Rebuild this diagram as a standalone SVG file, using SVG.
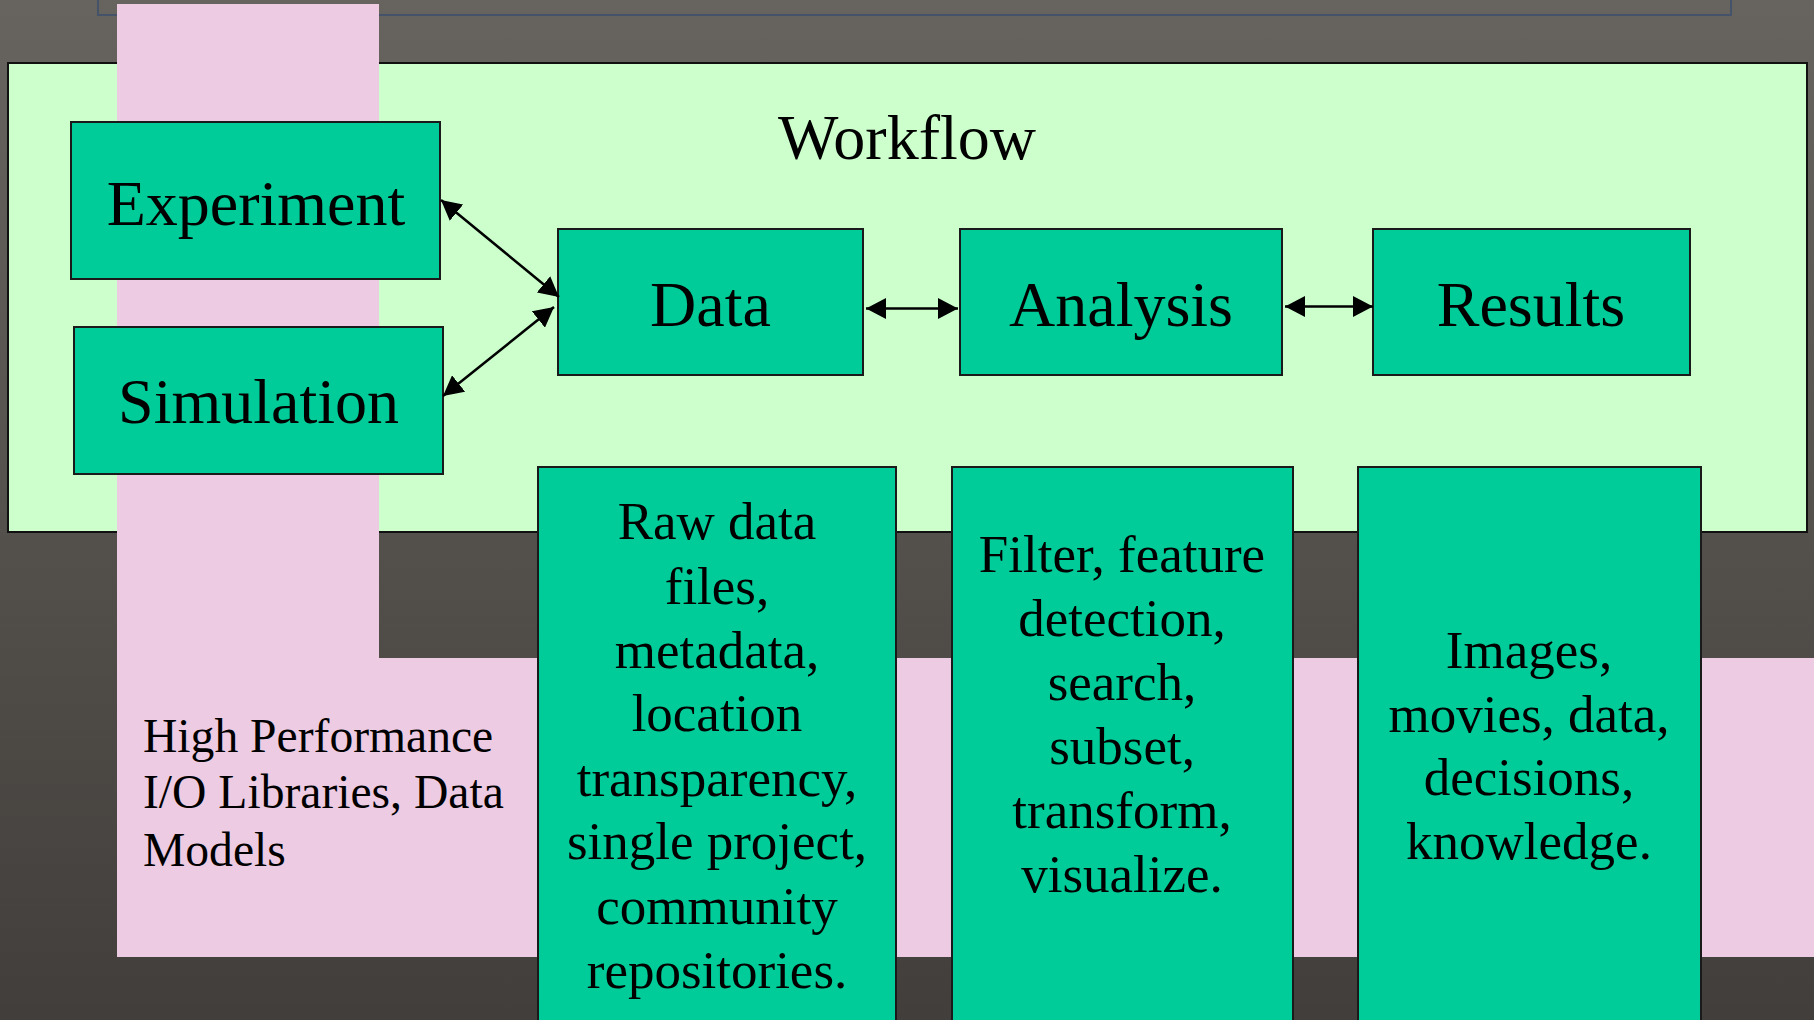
<svg xmlns="http://www.w3.org/2000/svg" width="1814" height="1020" viewBox="0 0 1814 1020">
  <defs>
    <linearGradient id="bg" x1="0" y1="0" x2="0" y2="1">
      <stop offset="0" stop-color="#67645f"/>
      <stop offset="1" stop-color="#423e3b"/>
    </linearGradient>
    <marker id="ah" viewBox="0 0 20 21" refX="20" refY="10.5" markerWidth="20" markerHeight="21" markerUnits="userSpaceOnUse" orient="auto-start-reverse">
      <path d="M0,0 L20,10.5 L0,21 z" fill="#000"/>
    </marker>
  </defs>
  <style>
    .node { fill: #00cc99; stroke: #1a1a1a; stroke-width: 2; }
    .t { font-family: "Liberation Serif", "Times New Roman", serif; fill: #000; }
    .lbl { font-size: 64px; text-anchor: middle; }
    .desc { font-size: 53px; text-anchor: middle; }
    .conn { stroke: #000; stroke-width: 2.5; fill: none; marker-start: url(#ah); marker-end: url(#ah); }
  </style>

  <rect x="0" y="0" width="1814" height="1020" fill="url(#bg)"/>
  <rect x="98" y="-20" width="1633" height="35" fill="none" stroke="#45536a" stroke-width="2"/>

  <g id="workflow-panel">
    <rect x="8" y="63" width="1799" height="469" fill="#ccffcc" stroke="#111" stroke-width="2"/>
  </g>

  <g id="io-libraries">
    <path d="M117,4 H379 V658 H1814 V957 H117 Z" fill="#edcbe3"/>
    <text class="t" font-size="47.6" x="143" y="752">High Performance</text>
    <text class="t" font-size="47.6" x="143" y="808">I/O Libraries, Data</text>
    <text class="t" font-size="47.6" x="143" y="866">Models</text>
  </g>

  <g id="title">
    <text class="t lbl" x="907" y="159" font-size="65">Workflow</text>
  </g>

  <g id="experiment">
    <rect class="node" x="71" y="122" width="369" height="157"/>
    <text class="t lbl" x="256" y="225">Experiment</text>
  </g>
  <g id="simulation">
    <rect class="node" x="74" y="327" width="369" height="147"/>
    <text class="t lbl" x="258.5" y="423">Simulation</text>
  </g>
  <g id="data">
    <rect class="node" x="558" y="229" width="305" height="146"/>
    <text class="t lbl" x="710.5" y="326">Data</text>
  </g>
  <g id="analysis">
    <rect class="node" x="960" y="229" width="322" height="146"/>
    <text class="t lbl" x="1121" y="326">Analysis</text>
  </g>
  <g id="results">
    <rect class="node" x="1373" y="229" width="317" height="146"/>
    <text class="t lbl" x="1531" y="326">Results</text>
  </g>

  <g id="data-desc">
    <rect class="node" x="538" y="467" width="358" height="580"/>
    <text class="t desc" x="717" y="539">Raw data</text>
    <text class="t desc" x="717" y="604">files,</text>
    <text class="t desc" x="717" y="668">metadata,</text>
    <text class="t desc" x="717" y="731">location</text>
    <text class="t desc" x="717" y="796">transparency,</text>
    <text class="t desc" x="717" y="859">single project,</text>
    <text class="t desc" x="717" y="924">community</text>
    <text class="t desc" x="717" y="988">repositories.</text>
  </g>
  <g id="analysis-desc">
    <rect class="node" x="952" y="467" width="341" height="580"/>
    <text class="t desc" x="1122" y="572">Filter, feature</text>
    <text class="t desc" x="1122" y="636">detection,</text>
    <text class="t desc" x="1122" y="700">search,</text>
    <text class="t desc" x="1122" y="764">subset,</text>
    <text class="t desc" x="1122" y="828">transform,</text>
    <text class="t desc" x="1122" y="892">visualize.</text>
  </g>
  <g id="results-desc">
    <rect class="node" x="1358" y="467" width="343" height="580"/>
    <text class="t desc" x="1529" y="668">Images,</text>
    <text class="t desc" x="1529" y="732">movies, data,</text>
    <text class="t desc" x="1529" y="795">decisions,</text>
    <text class="t desc" x="1529" y="859">knowledge.</text>
  </g>

  <g id="connectors">
    <line class="conn" x1="441" y1="200" x2="559" y2="297"/>
    <line class="conn" x1="443" y1="396" x2="554" y2="307"/>
    <line class="conn" x1="866" y1="308.5" x2="958" y2="308.5"/>
    <line class="conn" x1="1285" y1="306.5" x2="1373" y2="306.5"/>
  </g>
</svg>
